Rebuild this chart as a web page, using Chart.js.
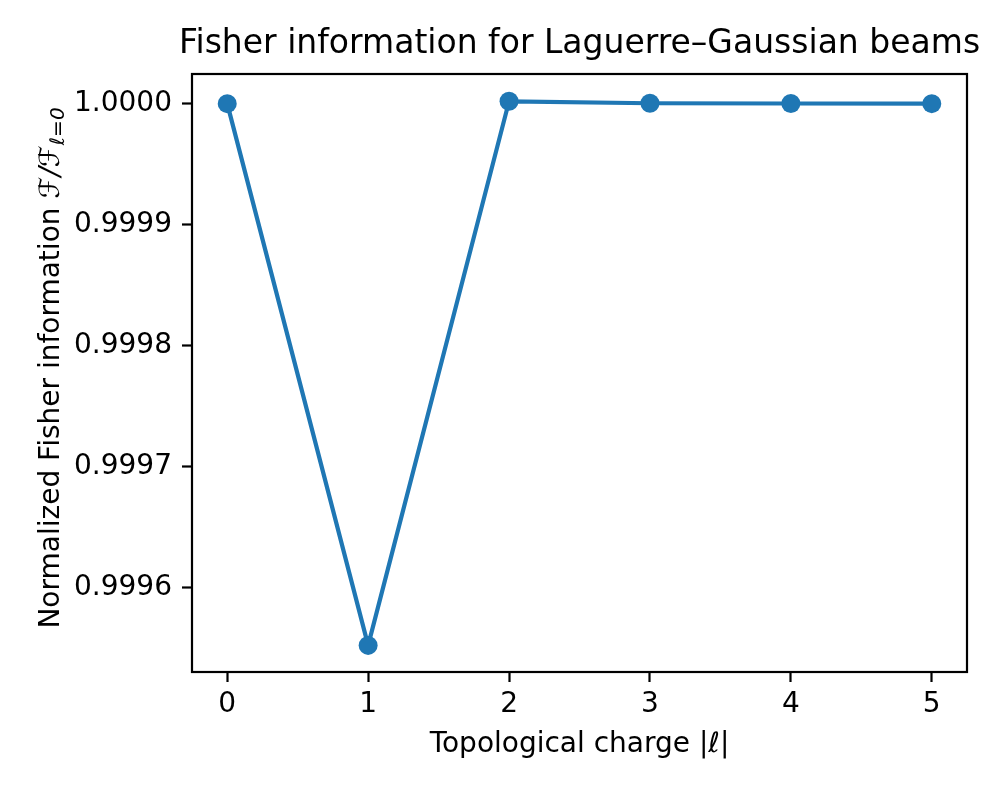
<!DOCTYPE html>
<html>
<head>
<meta charset="utf-8">
<script src="https://cdn.jsdelivr.net/npm/chart.js@4.4.1/dist/chart.umd.min.js"></script>
<style>body{margin:0;background:#fff}</style>
</head>
<body>
<canvas id="myChart" width="996" height="797"></canvas>
<script>
// values
const charges = [0, 1, 2, 3, 4, 5];
const fisherNorm = [1.0, 0.999552, 1.0000019, 1.0000003, 1.0000001, 1.0];
const xTicks = [0, 1, 2, 3, 4, 5];
const yTicks = [0.9996, 0.9997, 0.9998, 0.9999, 1.0];

const FONT = 'DejaVu Sans';
const BLUE = '#1f77b4';
const TITLE = 'Fisher information for Laguerre\u2013Gaussian beams';

// frame round the plot area + title centred over it (like matplotlib)
const framePlugin = {
  id: 'frame',
  afterDraw(chart) {
    const {ctx, chartArea: a} = chart;
    ctx.save();
    ctx.strokeStyle = '#000';
    ctx.lineWidth = 2.2;
    ctx.strokeRect(a.left, a.top, a.right - a.left, a.bottom - a.top);
    ctx.fillStyle = '#000';
    ctx.font = '33px "' + FONT + '"';
    ctx.textAlign = 'center';
    ctx.textBaseline = 'alphabetic';
    ctx.fillText(TITLE, (a.left + a.right) / 2, 53);
    ctx.restore();
  }
};

// y label with the F/F_{l=0} bit
const yLabelPlugin = {
  id: 'ylabel',
  afterDraw(chart) {
    const ctx = chart.ctx;
    const size = 28;
    const parts = [
      {t: 'Normalized Fisher information ', f: size + 'px "' + FONT + '"', dy: 0},
      {t: '\u2131/\u2131', f: 'italic ' + size + 'px "' + FONT + '"', dy: 0},
      {t: '\u2113=0', f: 'italic ' + Math.round(size * 0.7) + 'px "' + FONT + '"', dy: size * 0.25}
    ];
    ctx.save();
    let total = 0;
    parts.forEach(p => { ctx.font = p.f; p.w = ctx.measureText(p.t).width; total += p.w; });
    ctx.translate(52, 368);
    ctx.rotate(-Math.PI / 2);
    ctx.fillStyle = '#000';
    ctx.textBaseline = 'middle';
    let x = -total / 2;
    parts.forEach(p => {
      ctx.font = p.f;
      ctx.fillText(p.t, x, p.dy);
      x += p.w;
    });
    ctx.restore();
  }
};

const chart_obj = document.getElementById('myChart');

new Chart(chart_obj, {
  type: 'line',
  data: {
    datasets: [{
      data: charges.map((c, i) => ({x: c, y: fisherNorm[i]})),
      borderColor: BLUE,
      backgroundColor: BLUE,
      borderWidth: 4.2,
      pointRadius: 9.5,
      pointHoverRadius: 9.5,
      pointBorderWidth: 0,
      pointBackgroundColor: BLUE,
      tension: 0,
      clip: false
    }]
  },
  options: {
    responsive: false,
    animation: false,
    layout: {padding: {left: 0, right: 29, top: 74, bottom: 0}},
    plugins: {
      legend: {display: false},
      tooltip: {enabled: false},
      title: {display: false}
    },
    scales: {
      x: {
        type: 'linear',
        min: -0.25,
        max: 5.25,
        afterBuildTicks(scale) { scale.ticks = xTicks.map(v => ({value: v})); },
        afterFit(scale) { scale.height = 125; },
        border: {display: false},
        grid: {drawOnChartArea: false, drawTicks: true, tickLength: 10, tickWidth: 2.2, tickColor: '#000'},
        ticks: {color: '#000', font: {family: FONT, size: 28}, padding: 6, maxRotation: 0,
          callback: v => String(v)},
        title: {display: true, text: 'Topological charge |\u2113|', color: '#000',
          font: {family: FONT, size: 28}, padding: {top: 0, bottom: 35}}
      },
      y: {
        min: 0.99953,
        max: 1.0000245,
        afterBuildTicks(scale) { scale.ticks = yTicks.map(v => ({value: v})); },
        afterFit(scale) { scale.width = 192; },
        border: {display: false},
        grid: {drawOnChartArea: false, drawTicks: true, tickLength: 10, tickWidth: 2.2, tickColor: '#000'},
        ticks: {color: '#000', font: {family: FONT, size: 28}, padding: 10,
          callback: v => v.toFixed(4)}
      }
    }
  },
  plugins: [framePlugin, yLabelPlugin]
});
</script>
</body>
</html>
